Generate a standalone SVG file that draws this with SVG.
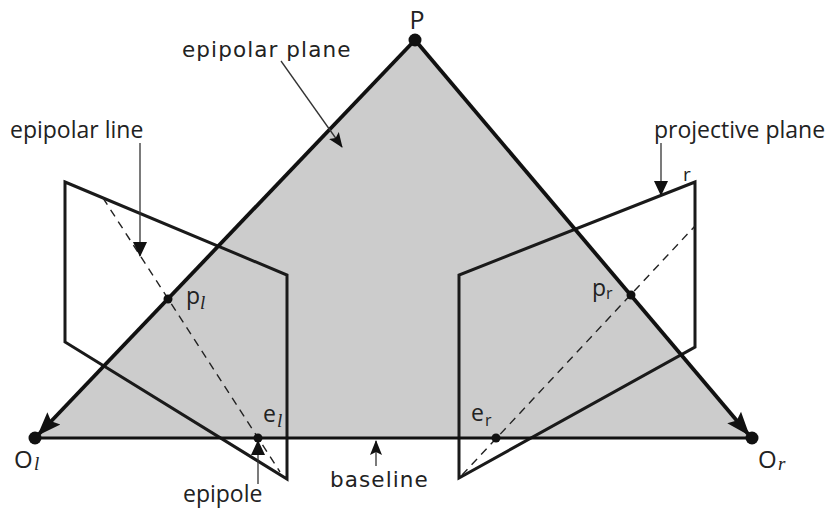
<svg xmlns="http://www.w3.org/2000/svg" width="830" height="508" viewBox="0 0 830 508">
<style>
.plane{fill:none;stroke:#1a1a1a;stroke-width:3;stroke-linejoin:miter}
.ray{fill:none;stroke:#111;stroke-width:3.8}
.dash{fill:none;stroke:#222;stroke-width:1.4;stroke-dasharray:8 6}
.lead{fill:none;stroke:#333;stroke-width:1.3}
.t{font-family:"Open Sans","Noto Sans",sans-serif;font-size:23px;fill:#222}
.d{font-family:"DejaVu Sans",sans-serif;font-size:21.5px;fill:#222}
.i{font-family:"Liberation Serif",serif;font-style:italic;font-size:19px;fill:#222}
.s{font-family:"Open Sans",sans-serif;font-size:16px;fill:#222}
</style>
<defs>
<marker id="big" markerUnits="userSpaceOnUse" markerWidth="26" markerHeight="22" refX="23" refY="11" orient="auto"><path d="M0 2L24 11L0 20L4 11Z" fill="#111"/></marker>
<marker id="mid" markerUnits="userSpaceOnUse" markerWidth="16" markerHeight="14" refX="14" refY="7" orient="auto"><path d="M0 0L15 7L0 14Z" fill="#111"/></marker>
<marker id="small" markerUnits="userSpaceOnUse" markerWidth="16" markerHeight="12" refX="14" refY="6" orient="auto"><path d="M0 0L15 6L0 12L3 6Z" fill="#111"/></marker>
</defs>
<rect width="830" height="508" fill="#fff"/>
<g id="epipolar-plane"><polygon points="415,40 35,438 752,438" fill="#cccccc"/></g>
<g id="left-plane"><polygon class="plane" points="65,182 287,275 287,479 65,342"/></g>
<g id="right-plane"><polygon class="plane" points="695,182 459,275 459,478 695,347"/></g>
<g id="connectors">
<line class="dash" x1="103" y1="198" x2="280" y2="472"/>
<line class="dash" x1="462" y1="475" x2="695" y2="226"/>
<line class="ray" x1="35" y1="438" x2="752" y2="438" style="stroke-width:3"/>
<line class="ray" x1="415" y1="40" x2="38" y2="435" marker-end="url(#big)"/>
<line class="ray" x1="415" y1="40" x2="749" y2="435" marker-end="url(#big)"/>
<line class="lead" x1="140" y1="143" x2="140" y2="256" marker-end="url(#mid)"/>
<line class="lead" x1="661" y1="143" x2="661" y2="195" marker-end="url(#mid)"/>
<line class="lead" x1="281" y1="61" x2="342" y2="147" marker-end="url(#small)"/>
<line class="lead" x1="258" y1="484" x2="258" y2="441" marker-end="url(#mid)"/>
<line class="lead" x1="376" y1="466" x2="376" y2="441" marker-end="url(#small)"/>
</g>
<g id="point-P"><circle cx="415" cy="40" r="6.5" fill="#111"/><text class="t" x="417" y="29" text-anchor="middle" style="font-size:25px">P</text></g>
<g id="point-Ol"><circle cx="35" cy="438" r="6.5" fill="#111"/><text class="t" x="14" y="468" style="font-size:24px">O</text><text class="i" x="34" y="470">l</text></g>
<g id="point-Or"><circle cx="752" cy="438" r="6.5" fill="#111"/><text class="t" x="758" y="468" style="font-size:24px">O</text><text class="i" x="778" y="470">r</text></g>
<g id="point-pl"><circle cx="168" cy="299" r="4.5" fill="#111"/><text class="t" x="186" y="304">p</text><text class="i" x="200" y="309">l</text></g>
<g id="point-pr"><circle cx="631" cy="295" r="4.5" fill="#111"/><text class="t" x="592" y="296">p</text><text class="s" x="606" y="299">r</text></g>
<g id="point-el"><circle cx="258" cy="438" r="4.5" fill="#111"/><text class="t" x="263" y="422">e</text><text class="i" x="277" y="427">l</text></g>
<g id="point-er"><circle cx="496" cy="438" r="4.5" fill="#111"/><text class="t" x="471" y="421">e</text><text class="s" x="485" y="426">r</text></g>
<g id="label-epipolar-plane"><text class="d" x="182" y="57" style="letter-spacing:1.1px">epipolar plane</text></g>
<g id="label-epipolar-line"><text class="t" x="10" y="138">epipolar line</text></g>
<g id="label-projective-plane"><text class="t" x="654" y="138">projective plane</text></g>
<g id="label-r"><text class="t" x="683" y="181" style="font-size:19px">r</text></g>
<g id="label-epipole"><text class="t" x="183" y="502">epipole</text></g>
<g id="label-baseline"><text class="d" x="330" y="487" style="letter-spacing:1.1px">baseline</text></g>
</svg>
